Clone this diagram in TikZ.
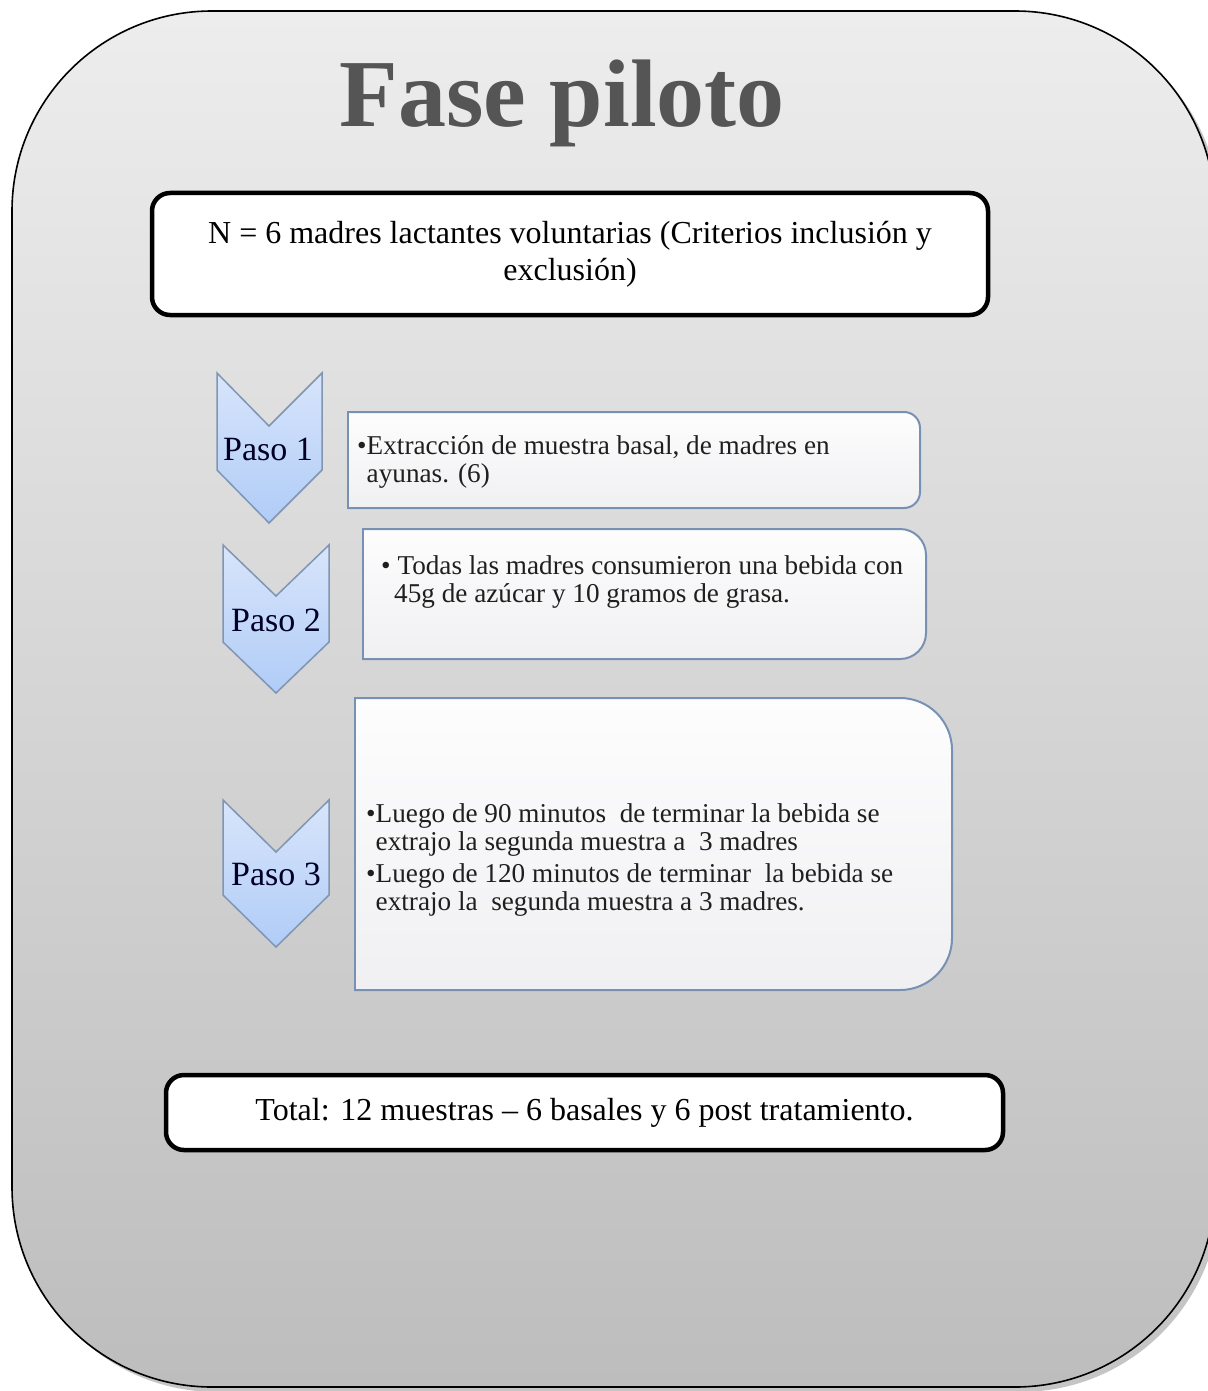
\documentclass[tikz,border=0pt]{standalone}
\usepackage{fontspec}
\setmainfont{Liberation Serif}
\definecolor{frtop}{HTML}{EDEDED}
\definecolor{frbot}{HTML}{BDBDBD}
\definecolor{titlegray}{HTML}{555555}
\definecolor{chevtop}{HTML}{D8E5FB}
\definecolor{chevbot}{HTML}{B0CCF7}
\definecolor{chevline}{HTML}{7F95B2}
\definecolor{stepline}{HTML}{7891B2}
\definecolor{steptop}{HTML}{FDFDFE}
\definecolor{stepbot}{HTML}{F0F0F2}
\tikzset{
  mainbox/.style={draw=black, line width=4.5pt, fill=white, rounded corners=18pt, inner sep=0pt, align=center,
    font=\fontsize{32}{37}\selectfont},
  chevshape/.style={draw=chevline, line width=1.5pt, top color=chevtop, bottom color=chevbot, line join=miter},
  stepfill/.style={top color=steptop, bottom color=stepbot},
  stepedge/.style={draw=stepline, line width=2pt, line cap=rect},
  pasotext/.style={inner sep=0pt, font=\fontsize{34}{36}\selectfont, text=black!85!blue},
  steptext/.style={inner sep=0pt, anchor=west, align=left, font=\fontsize{27.2}{27.8}\selectfont, text=black!88},
  titletext/.style={inner sep=0pt, anchor=base, font=\fontsize{96}{100}\selectfont\bfseries, text=titlegray}
}
\newcommand{\mystepbox}[5]{%
  \shade[stepfill, rounded corners=#5] (#1,#2) -- (#3,#2) -- (#3,#4) -- (#1,#4);
  \draw[stepedge, rounded corners=#5] (#1,#2) -- (#3,#2) -- (#3,#4) -- (#1,#4);
  \draw[stepedge] (#1,#4) -- (#1,#2);
}
\begin{document}
\begin{tikzpicture}[x=1pt, y=-1pt]
\useasboundingbox (0,0) rectangle (1207,1391);
% outer frame
\fill[black!45, opacity=0.5, rounded corners=200pt] (17,16) rectangle (1220,1392);
\shade[top color=frtop, bottom color=frbot, rounded corners=200pt] (12,11) rectangle (1215,1387);
\draw[black, line width=1.6pt, rounded corners=200pt] (12,11) rectangle (1215,1387);

% title
\node[titletext] (title) at (562,127) {Fase piloto};

% N box
\node[mainbox, minimum width=836pt, minimum height=122pt] (nbox) at (570,254)
  {N = 6 madres lactantes voluntarias (Criterios inclusión y\\exclusión)};

% step boxes
\mystepbox{348}{412}{920}{508}{16pt}
\mystepbox{363}{529}{926}{659}{26pt}
\mystepbox{355}{698}{952}{990}{52pt}

% chevrons
\draw[chevshape] (217,373) -- (269,426) -- (322,373) -- (322,470) -- (269,523) -- (217,470) -- cycle;
\draw[chevshape] (223,545) -- (276,596) -- (329,545) -- (329,642) -- (276,693) -- (223,642) -- cycle;
\draw[chevshape] (223,800) -- (276,852) -- (329,800) -- (329,895) -- (276,947) -- (223,895) -- cycle;

\node[pasotext] (paso1) at (268,449) {Paso 1};
\node[pasotext] (paso2) at (276,620) {Paso 2};
\node[pasotext] (paso3) at (276,874) {Paso 3};

% step texts
\node[steptext] (t1) at (357,462)
  {•Extracción de muestra basal, de madres en\\\phantom{•}ayunas. (6)};
\node[steptext] (t2) at (381,582)
  {• Todas las madres consumieron una bebida con\\\hspace*{13pt}45g de azúcar y 10 gramos de grasa.};
\node[steptext] (t3) at (366,860)
  {•Luego de 90 minutos \ de terminar la bebida se\\\phantom{•}extrajo la segunda muestra a \ 3 madres\\[4pt]
   •Luego de 120 minutos de terminar \ la bebida se\\\phantom{•}extrajo la \ segunda muestra a 3 madres.};

% total box
\node[mainbox, minimum width=837pt, minimum height=75pt] (total) at (584.5,1112.5)
  {Total: 12 muestras – 6 basales y 6 post tratamiento.};
\end{tikzpicture}
\end{document}
